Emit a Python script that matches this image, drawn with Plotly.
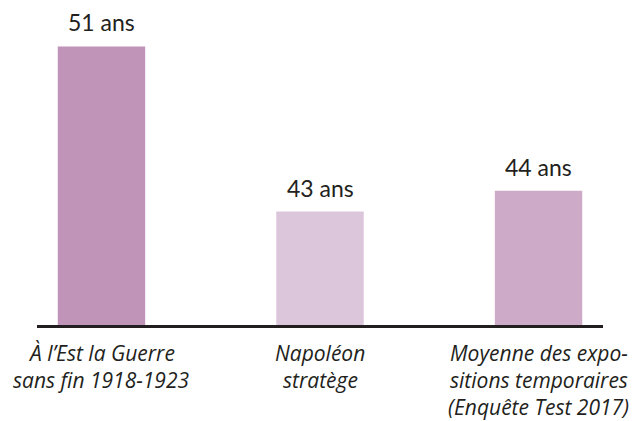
import plotly.graph_objects as go

# Average visitor age per exhibition
categories = ["guerre", "napoleon", "moyenne"]
ages = [51, 43, 44]
value_labels = ["51 ans", "43 ans", "44 ans"]
category_lines = [
    ["À l’Est la Guerre", "sans fin 1918-1923"],
    ["Napoléon", "stratège"],
    ["Moyenne des expo-", "sitions temporaires", "(Enquête Test 2017)"],
]

bar_colors = ["#BF94B8", "#DCC6DB", "#CDABC8"]
text_color = "#231F20"
value_font = "Lato, 'Open Sans', sans-serif"
caption_font = "'Open Sans', Lato, sans-serif"

fig = go.Figure(
    go.Bar(
        x=categories,
        y=ages,
        marker=dict(color=bar_colors, line=dict(width=0)),
        width=0.4,
        hoverinfo="skip",
    )
)

annotations = []
# Value labels above each bar
for cat, val, txt in zip(categories, ages, value_labels):
    annotations.append(dict(
        x=cat, y=val, xref="x", yref="y",
        text=txt, showarrow=False,
        yanchor="bottom", xanchor="center", yshift=8,
        font=dict(family=value_font, size=23, color=text_color),
    ))

# Italic category captions under the baseline, one annotation per line
line_gap = 27
for cat, lines in zip(categories, category_lines):
    for i, line in enumerate(lines):
        annotations.append(dict(
            x=cat, y=0, xref="x", yref="paper",
            text=f"<i>{line}</i>", showarrow=False,
            yanchor="middle", xanchor="center",
            yshift=-(28 + i * line_gap),
            font=dict(family=caption_font, size=21, color=text_color),
        ))

fig.update_layout(
    width=640, height=421,
    margin=dict(l=37, r=37, t=0, b=96),
    paper_bgcolor="white", plot_bgcolor="white",
    showlegend=False,
    annotations=annotations,
    xaxis=dict(
        range=[-0.295, 2.295],
        showticklabels=False, ticks="",
        showline=True, linecolor=text_color, linewidth=3,
        showgrid=False, zeroline=False, fixedrange=True,
    ),
    yaxis=dict(
        range=[37.5, 53.25],
        visible=False, showgrid=False, zeroline=False, fixedrange=True,
    ),
)

fig.write_html("out.html")
